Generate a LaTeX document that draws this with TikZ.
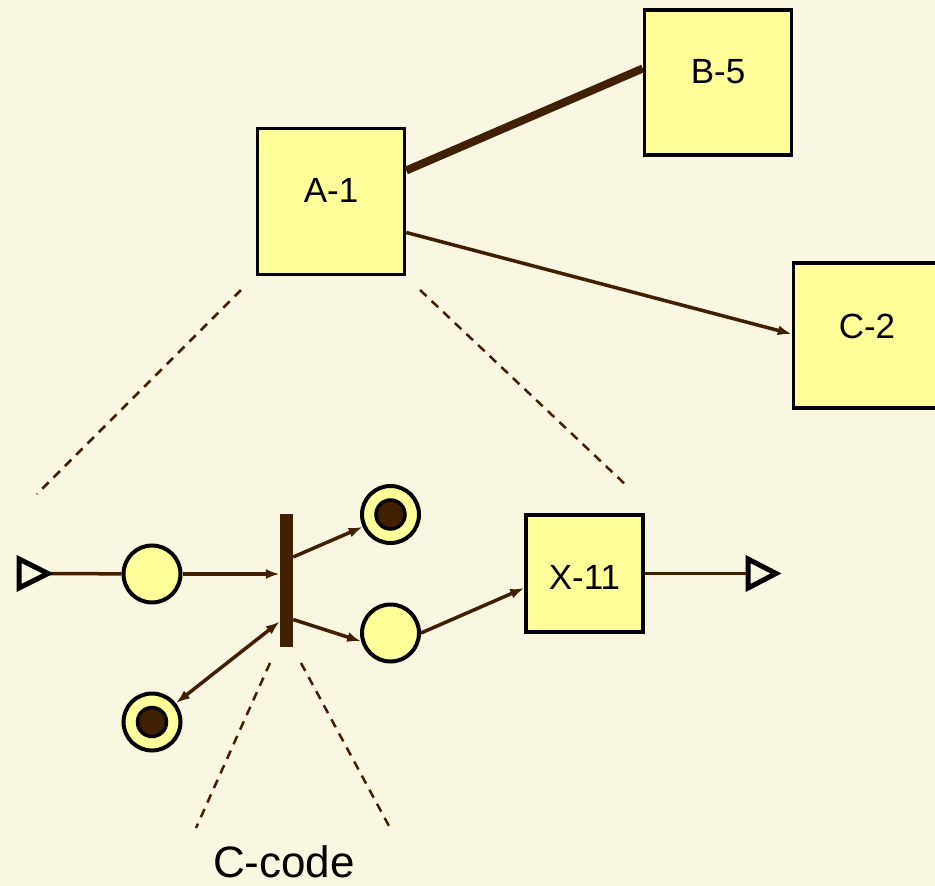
\documentclass[tikz,border=0pt]{standalone}
\usepackage{fontspec}
\setmainfont{Liberation Sans}
\usetikzlibrary{arrows.meta}
\definecolor{paper}{RGB}{249,246,226}
\definecolor{boxfill}{RGB}{255,255,153}
\definecolor{wire}{RGB}{64,32,0}
\begin{document}
\begin{tikzpicture}[x=1pt,y=-1pt,
  box/.style={rectangle, draw=black, line width=3.5pt, fill=boxfill, inner sep=0pt},
  lbl/.style={inner sep=0pt, font=\fontsize{35}{40}\selectfont},
  place/.style={circle, draw=black, line width=4pt, fill=boxfill, minimum size=57pt, inner sep=0pt},
  token/.style={circle, draw=black, line width=3.5pt, fill=wire, minimum size=29pt, inner sep=0pt},
  bar/.style={rectangle, fill=wire, inner sep=0pt, minimum width=13pt, minimum height=133pt},
  link/.style={draw=wire, line width=3.5pt},
  arc/.style={link, -{Latex[length=14pt,width=10pt]}},
  biarc/.style={link, {Latex[length=14pt,width=10pt]}-{Latex[length=14pt,width=10pt]}},
  heavy/.style={draw=wire, line width=8pt},
  zoomline/.style={draw=wire, line width=2.5pt, dash pattern=on 9pt off 7pt},
  port/.style={draw=black, line width=5pt, fill=paper, line join=miter}]

\useasboundingbox (0,0) rectangle (935,886);
\clip (0,0) rectangle (935,886);
\fill[paper] (0,0) rectangle (935,886);

% top level modules
\node[box, minimum width=147pt, minimum height=146pt] (A) at (331,201.5) {};
\node[box, minimum width=147pt, minimum height=145pt] (B) at (718,82.5) {};
\node[box, minimum width=147pt, minimum height=145pt] (C) at (867,335.5) {};
\node[lbl] (Alab) at ([yshift=11pt]A.center) {A-1};
\node[lbl] (Blab) at ([yshift=11pt]B.center) {B-5};
\node[lbl] (Clab) at ([yshift=9pt]C.center) {C-2};

\draw[heavy] ([yshift=31pt]A.east) -- ([yshift=14pt]B.west);
\draw[arc] ([yshift=-31pt]A.east) -- ([yshift=1.5pt]C.west);

% zoom-in guides from A-1
\coordinate (g1a) at (241,290);
\coordinate (g1b) at (37,494);
\coordinate (g2a) at (420,290);
\coordinate (g2b) at (628,487);
\draw[zoomline] (g1a) -- (g1b);
\draw[zoomline] (g2a) -- (g2b);

% inner net of A-1
\node[place] (P1) at (152,574) {};
\node[bar] (T) at (286.5,580.5) {};
\node[place] (T1) at (390.5,514.5) {};
\node[token] (T1i) at (390.5,514.5) {};
\node[place] (P2) at (390.5,633) {};
\node[place] (T2) at (152,722) {};
\node[token] (T2i) at (152,722) {};
\node[box, minimum width=117pt, minimum height=117pt] (X) at (584.5,573.5) {};
\node[lbl] (Xlab) at ([yshift=-4pt]X.center) {X-11};

\coordinate (intip) at (48,573.5);
\coordinate (outbase) at (747,573.5);

\draw[link] (intip) -- (P1);
\draw[arc] (P1) -- (P1 -| T.west);
\draw[arc] ([yshift=23.5pt]T.east) -- (T1.204);
\draw[arc] ([yshift=-39pt]T.east) -- (P2.196);
\draw[biarc] ([yshift=-41pt]T.west) -- (T2);
\draw[arc] (P2.east) -- ([yshift=-14.5pt]X.west);
\draw[link] (X.east) -- (outbase);

% input and output ports
\draw[port] (19,559) -- (intip) -- (19,588) -- cycle;
\draw[port] (748,559) -- (776,573.5) -- (748,588) -- cycle;

% zoom-in guides from the transition
\coordinate (g3a) at (270,663);
\coordinate (g3b) at (196,828);
\coordinate (g4a) at (301,663);
\coordinate (g4b) at (389,826);
\draw[zoomline] (g3a) -- (g3b);
\draw[zoomline] (g4a) -- (g4b);

\node[inner sep=0pt, anchor=base, font=\fontsize{44}{50}\selectfont] (code) at (284,877) {C-code};
\end{tikzpicture}
\end{document}
